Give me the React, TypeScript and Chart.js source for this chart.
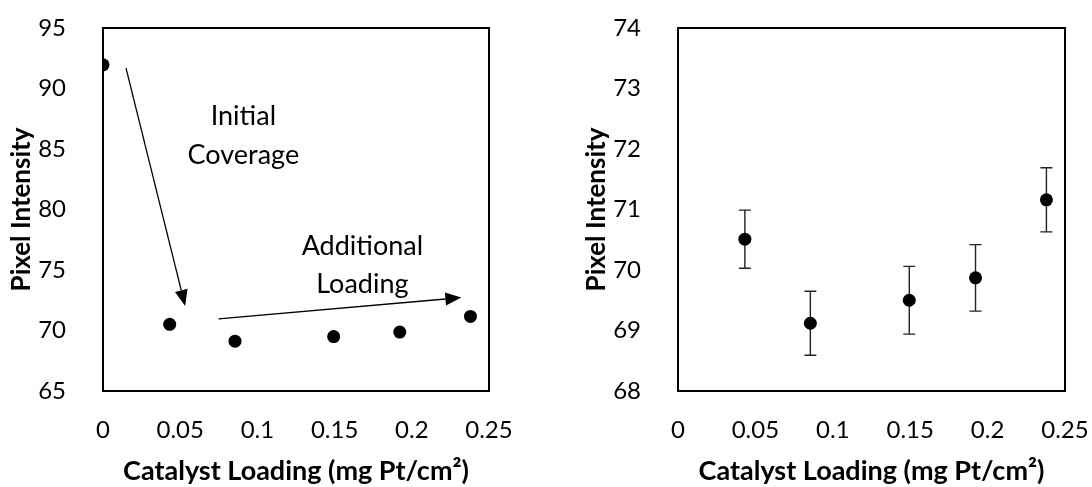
import React, { useEffect, useRef } from "react";
import { Chart, registerables } from "chart.js";

Chart.register(...registerables);

// ---- Data ----
const bareLoading = 0;
const bareIntensity = 91.96;
const loadings = [0.0432, 0.0855, 0.1494, 0.1922, 0.238];
const intensities = [70.51, 69.12, 69.5, 69.87, 71.16];
const errors = [0.48, 0.53, 0.56, 0.55, 0.53];

const xTicks = [0, 0.05, 0.1, 0.15, 0.2, 0.25];
const leftYTicks = [65, 70, 75, 80, 85, 90, 95];
const rightYTicks = [68, 69, 70, 71, 72, 73, 74];

const xTitle = "Catalyst Loading (mg Pt/cm²)";
const yTitle = "Pixel Intensity";

// annotations on the left chart (data coordinates)
const noteTexts = ["Initial", "Coverage", "Additional", "Loading"];
const noteX = [0.0909, 0.0909, 0.168, 0.168];
const noteY = [87.0, 83.78, 76.25, 73.08];
const arrowX1 = [0.0149, 0.0748];
const arrowY1 = [91.69, 70.96];
const arrowX2 = [0.0532, 0.2321];
const arrowY2 = [72.03, 72.72];

const FONT = "Lato, 'Open Sans', sans-serif";
const W = 546;
const H = 487;

const fmt = (v: number) => String(Number(v.toFixed(2)));

const framePlugin = {
  id: "frame",
  beforeDatasetsDraw(chart: any) {
    const { ctx, chartArea } = chart;
    const { left, top, right, bottom } = chartArea;
    ctx.save();
    ctx.strokeStyle = "#000";
    ctx.lineWidth = 2;
    ctx.strokeRect(left, top, right - left, bottom - top);
    ctx.restore();
  },
};

function makeErrorPlugin(xs: number[], ys: number[], es: number[]) {
  return {
    id: "errorbars",
    beforeDatasetsDraw(chart: any) {
      const { ctx, scales } = chart;
      const sx = scales.x;
      const sy = scales.y;
      ctx.save();
      ctx.strokeStyle = "#222";
      ctx.lineWidth = 1.4;
      for (let i = 0; i < xs.length; i++) {
        const px = sx.getPixelForValue(xs[i]);
        const pTop = sy.getPixelForValue(ys[i] + es[i]);
        const pBot = sy.getPixelForValue(ys[i] - es[i]);
        ctx.beginPath();
        ctx.moveTo(px, pTop);
        ctx.lineTo(px, pBot);
        ctx.moveTo(px - 6, pTop);
        ctx.lineTo(px + 6, pTop);
        ctx.moveTo(px - 6, pBot);
        ctx.lineTo(px + 6, pBot);
        ctx.stroke();
      }
      ctx.restore();
    },
  };
}

const annotationPlugin = {
  id: "notes",
  afterDatasetsDraw(chart: any) {
    const { ctx, scales } = chart;
    const sx = scales.x;
    const sy = scales.y;
    ctx.save();
    ctx.fillStyle = "#000";
    ctx.strokeStyle = "#000";
    ctx.font = `27px ${FONT}`;
    ctx.textAlign = "center";
    ctx.textBaseline = "alphabetic";
    for (let i = 0; i < noteTexts.length; i++) {
      ctx.fillText(noteTexts[i], sx.getPixelForValue(noteX[i]), sy.getPixelForValue(noteY[i]));
    }
    ctx.lineWidth = 1.3;
    for (let i = 0; i < arrowX1.length; i++) {
      const x1 = sx.getPixelForValue(arrowX1[i]);
      const y1 = sy.getPixelForValue(arrowY1[i]);
      const x2 = sx.getPixelForValue(arrowX2[i]);
      const y2 = sy.getPixelForValue(arrowY2[i]);
      const ang = Math.atan2(y2 - y1, x2 - x1);
      const headLen = 16;
      const headHalf = 6.5;
      const bx = x2 - headLen * Math.cos(ang);
      const by = y2 - headLen * Math.sin(ang);
      ctx.beginPath();
      ctx.moveTo(x1, y1);
      ctx.lineTo(bx, by);
      ctx.stroke();
      ctx.beginPath();
      ctx.moveTo(x2, y2);
      ctx.lineTo(bx + headHalf * Math.sin(ang), by - headHalf * Math.cos(ang));
      ctx.lineTo(bx - headHalf * Math.sin(ang), by + headHalf * Math.cos(ang));
      ctx.closePath();
      ctx.fill();
    }
    ctx.restore();
  },
};

function buildConfig(opts: {
  xs: number[];
  ys: number[];
  yTicks: number[];
  padLeft: number;
  padRight: number;
  plugins: any[];
}) {
  const { xs, ys, yTicks, padLeft, padRight, plugins } = opts;
  const zeroPad = (s: any) => {
    s.paddingTop = 0;
    s.paddingBottom = 0;
    s.paddingLeft = 0;
    s.paddingRight = 0;
  };
  return {
    type: "scatter" as const,
    data: {
      datasets: [
        {
          data: xs.map((x, i) => ({ x, y: ys[i] })),
          backgroundColor: "#000",
          borderColor: "#000",
          pointRadius: 6.5,
          pointHoverRadius: 6.5,
          borderWidth: 0,
          showLine: false,
        },
      ],
    },
    options: {
      animation: false as const,
      responsive: false,
      maintainAspectRatio: false,
      events: [],
      layout: { padding: { left: padLeft, right: padRight, top: 28, bottom: 0 } },
      plugins: {
        legend: { display: false },
        tooltip: { enabled: false },
        title: { display: false },
      },
      scales: {
        x: {
          type: "linear" as const,
          min: xTicks[0],
          max: xTicks[xTicks.length - 1],
          grid: { display: false },
          border: { display: false },
          afterBuildTicks: (s: any) => {
            s.ticks = xTicks.map((v) => ({ value: v }));
          },
          afterFit: (s: any) => {
            s.height = 96;
            zeroPad(s);
          },
          ticks: {
            autoSkip: false,
            maxRotation: 0,
            padding: 17,
            color: "#000",
            font: { family: FONT, size: 24 },
            callback: (v: any) => fmt(Number(v)),
          },
          title: {
            display: true,
            text: xTitle,
            color: "#000",
            padding: { top: 0, bottom: 0 },
            font: { family: FONT, size: 27, weight: "bold" as const },
          },
        },
        y: {
          type: "linear" as const,
          min: yTicks[0],
          max: yTicks[yTicks.length - 1],
          grid: { display: false },
          border: { display: false },
          afterBuildTicks: (s: any) => {
            s.ticks = yTicks.map((v) => ({ value: v }));
          },
          afterFit: (s: any) => {
            s.width = 103;
            zeroPad(s);
          },
          ticks: {
            autoSkip: false,
            padding: 29,
            color: "#000",
            font: { family: FONT, size: 24 },
            callback: (v: any) => fmt(Number(v)),
          },
          title: {
            display: true,
            text: yTitle,
            color: "#000",
            padding: { top: 6, bottom: 0 },
            font: { family: FONT, size: 26, weight: "bold" as const },
          },
        },
      },
    },
    plugins: [framePlugin, ...plugins],
  };
}

function ChartCanvas(props: { build: () => any }) {
  const ref = useRef<HTMLCanvasElement | null>(null);
  useEffect(() => {
    if (!ref.current) return;
    const chart = new Chart(ref.current, props.build());
    return () => chart.destroy();
  }, []);
  return <canvas ref={ref} width={W} height={H} style={{ display: "block", width: W, height: H }} />;
}

export default function App() {
  const leftBuild = () =>
    buildConfig({
      xs: [bareLoading, ...loadings],
      ys: [bareIntensity, ...intensities],
      yTicks: leftYTicks,
      padLeft: 0,
      padRight: 57,
      plugins: [annotationPlugin],
    });
  const rightBuild = () =>
    buildConfig({
      xs: loadings,
      ys: intensities,
      yTicks: rightYTicks,
      padLeft: 29,
      padRight: 27,
      plugins: [makeErrorPlugin(loadings, intensities, errors)],
    });
  return (
    <div
      style={{
        position: "absolute",
        left: 0,
        top: 0,
        width: 1092,
        height: 487,
        display: "flex",
        background: "#fff",
      }}
    >
      <ChartCanvas build={leftBuild} />
      <ChartCanvas build={rightBuild} />
    </div>
  );
}
